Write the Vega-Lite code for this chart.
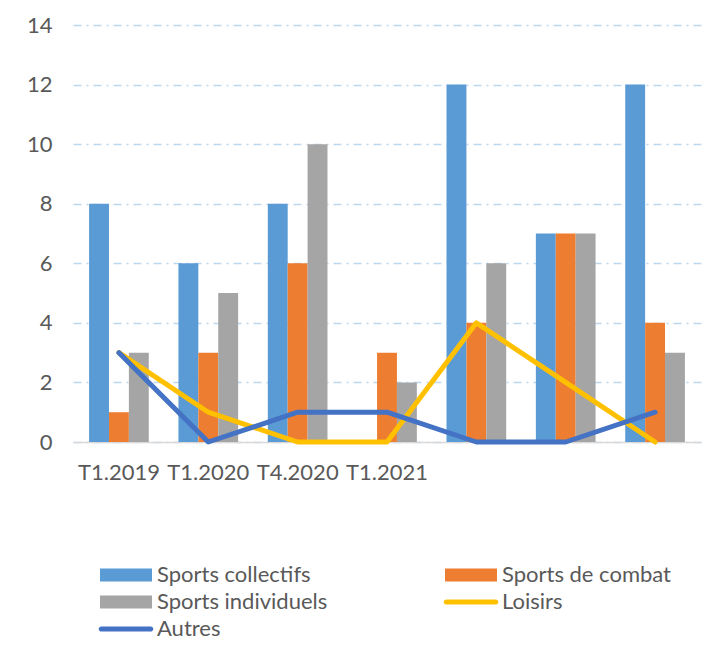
{
  "$schema": "https://vega.github.io/schema/vega-lite/v6.json",
  "autosize": "none",
  "width": 628,
  "height": 417,
  "padding": {"left": 73, "top": 25, "right": 4, "bottom": 210},
  "background": "white",
  "config": {
    "view": {"stroke": null},
    "font": "Lato",
    "axis": {"labelFont": "Lato", "labelFontSize": 22, "labelColor": "#595959", "title": null}
  },
  "data": {
    "values": [
      {"periode": "T1.2019", "serie": "Sports collectifs", "valeur": 8},
      {"periode": "T1.2019", "serie": "Sports de combat", "valeur": 1},
      {"periode": "T1.2019", "serie": "Sports individuels", "valeur": 3},
      {"periode": "T1.2019", "serie": "Loisirs", "valeur": 3},
      {"periode": "T1.2019", "serie": "Autres", "valeur": 3},
      {"periode": "T1.2020", "serie": "Sports collectifs", "valeur": 6},
      {"periode": "T1.2020", "serie": "Sports de combat", "valeur": 3},
      {"periode": "T1.2020", "serie": "Sports individuels", "valeur": 5},
      {"periode": "T1.2020", "serie": "Loisirs", "valeur": 1},
      {"periode": "T1.2020", "serie": "Autres", "valeur": 0},
      {"periode": "T4.2020", "serie": "Sports collectifs", "valeur": 8},
      {"periode": "T4.2020", "serie": "Sports de combat", "valeur": 6},
      {"periode": "T4.2020", "serie": "Sports individuels", "valeur": 10},
      {"periode": "T4.2020", "serie": "Loisirs", "valeur": 0},
      {"periode": "T4.2020", "serie": "Autres", "valeur": 1},
      {"periode": "T1.2021", "serie": "Sports collectifs", "valeur": 0},
      {"periode": "T1.2021", "serie": "Sports de combat", "valeur": 3},
      {"periode": "T1.2021", "serie": "Sports individuels", "valeur": 2},
      {"periode": "T1.2021", "serie": "Loisirs", "valeur": 0},
      {"periode": "T1.2021", "serie": "Autres", "valeur": 1},
      {"periode": "P5", "serie": "Sports collectifs", "valeur": 12},
      {"periode": "P5", "serie": "Sports de combat", "valeur": 4},
      {"periode": "P5", "serie": "Sports individuels", "valeur": 6},
      {"periode": "P5", "serie": "Loisirs", "valeur": 4},
      {"periode": "P5", "serie": "Autres", "valeur": 0},
      {"periode": "P6", "serie": "Sports collectifs", "valeur": 7},
      {"periode": "P6", "serie": "Sports de combat", "valeur": 7},
      {"periode": "P6", "serie": "Sports individuels", "valeur": 7},
      {"periode": "P6", "serie": "Loisirs", "valeur": 2},
      {"periode": "P6", "serie": "Autres", "valeur": 0},
      {"periode": "P7", "serie": "Sports collectifs", "valeur": 12},
      {"periode": "P7", "serie": "Sports de combat", "valeur": 4},
      {"periode": "P7", "serie": "Sports individuels", "valeur": 3},
      {"periode": "P7", "serie": "Loisirs", "valeur": 0},
      {"periode": "P7", "serie": "Autres", "valeur": 1}
    ]
  },
  "encoding": {
    "x": {
      "field": "periode",
      "type": "nominal",
      "sort": null,
      "scale": {"paddingInner": 0.332, "paddingOuter": 0.18},
      "axis": {
        "labelAngle": 0,
        "domainColor": "#D9D9D9",
        "domainWidth": 1.5,
        "ticks": false,
        "labelPadding": 20,
        "labelExpr": "indexof(['T1.2019','T1.2020','T4.2020','T1.2021'], datum.value) >= 0 ? datum.value : ''"
      }
    },
    "y": {
      "field": "valeur",
      "type": "quantitative",
      "scale": {"domain": [0, 14]},
      "axis": {
        "values": [0, 2, 4, 6, 8, 10, 12, 14],
        "domain": false,
        "ticks": false,
        "labelPadding": 21,
        "gridColor": "#BDD7EE",
        "gridWidth": 1.5,
        "gridDash": [8, 5, 2, 5]
      }
    }
  },
  "layer": [
    {
      "transform": [{"filter": {"field": "serie", "oneOf": ["Sports collectifs", "Sports de combat", "Sports individuels"]}}],
      "mark": {"type": "bar"},
      "encoding": {
        "xOffset": {
          "field": "serie",
          "type": "nominal",
          "scale": {"domain": ["Sports collectifs", "Sports de combat", "Sports individuels"], "paddingInner": 0, "paddingOuter": 0}
        },
        "color": {
          "field": "serie",
          "type": "nominal",
          "scale": {
            "domain": ["Sports collectifs", "Sports de combat", "Sports individuels", "Loisirs", "Autres"],
            "range": ["#5B9BD5", "#ED7D31", "#A5A5A5", "#FFC000", "#4472C4"]
          },
          "legend": {
            "title": null,
            "orient": "none",
            "legendX": 40,
            "legendY": 537,
            "direction": "horizontal",
            "columns": 2,
            "columnPadding": 115,
            "rowPadding": 3,
            "labelFont": "Lato",
            "labelFontSize": 22,
            "labelColor": "#595959",
            "labelLimit": 300,
            "labelOffset": 18,
            "symbolSize": 676,
            "symbolType": "M-2,-0.5H2V0.5H-2Z",
            "encode": {
              "symbols": {
                "update": {
                  "shape": {"signal": "indexof(['Loisirs','Autres'], datum.value) >= 0 ? 'M-1.9,-0.2H1.9A0.2,0.2 0 0 1 1.9,0.2H-1.9A0.2,0.2 0 0 1 -1.9,-0.2Z' : 'M-2,-0.5H2V0.5H-2Z'"},
                  "fill": {"signal": "scale('color', datum.value)"},
                  "stroke": {"value": "transparent"},
                  "strokeWidth": {"value": 0},
                  "opacity": {"value": 1}
                }
              }
            }
          }
        }
      }
    },
    {
      "transform": [{"filter": {"field": "serie", "oneOf": ["Loisirs", "Autres"]}}],
      "mark": {"type": "line", "strokeWidth": 5, "strokeCap": "round", "strokeJoin": "round"},
      "encoding": {
        "color": {
          "field": "serie",
          "type": "nominal",
          "sort": ["Loisirs", "Autres"]
        }
      }
    }
  ]
}
